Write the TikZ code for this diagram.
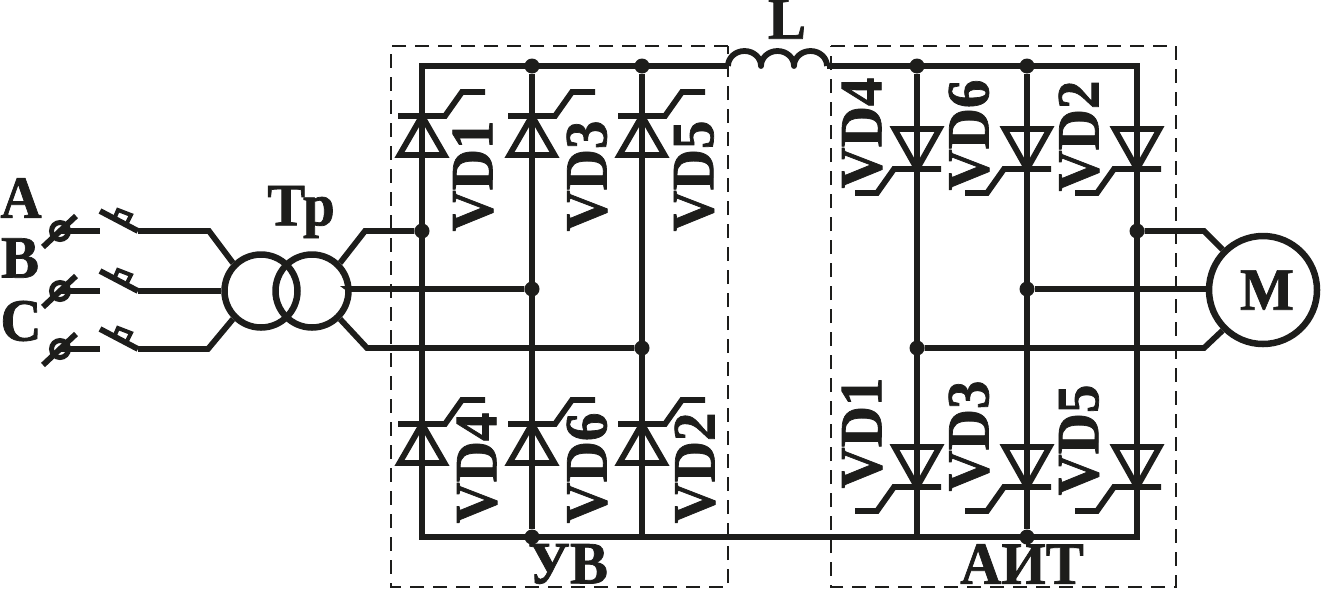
\documentclass[tikz,border=0pt]{standalone}
\usepackage{fontspec}
\setmainfont[BoldFeatures={FakeBold=1.2,FakeStretch=0.95}]{Liberation Serif}
\usetikzlibrary{positioning}
\definecolor{ink}{HTML}{1D1D1B}
\tikzset{
  x=1pt,
  y=-1pt,
  wire/.style={draw=ink, line width=5.8pt},
  frame/.style={draw=ink, line width=2.2pt, dash pattern=on 14pt off 9pt},
  junction/.style={circle, fill=ink, inner sep=0pt, minimum size=15pt},
  winding/.style={circle, draw=ink, line width=6.5pt, inner sep=0pt, minimum size=73pt},
  label/.style={text=ink, inner sep=0pt, font=\bfseries\fontsize{60}{60}\selectfont},
  vlabel/.style={label, rotate=90},
  thyrup/.pic={
    \draw[wire] (-22.5,39) -- (22.5,39) -- (0,0) -- cycle;
    \draw[wire] (-24,0) -- (23,0) -- (40,-24) -- (63,-24);
  },
  thyrdown/.pic={
    \draw[wire] (-22.5,-40) -- (22.5,-40) -- (0,0) -- cycle;
    \draw[wire] (24,0) -- (-23,0) -- (-40,24) -- (-62,24);
  },
  phase/.pic={
    \node[circle, draw=ink, line width=5pt, inner sep=0pt, minimum size=17pt] (-t) at (0,0) {};
    \draw[wire] (-17,16) -- (16,-15);
    \draw[wire] (-t.center) -- (40,0);
    \draw[wire] (40,-20) -- (78,0);
    \draw[ink, line width=4pt] (55,-14) -- (58,-21) -- (71,-16) -- (67,-8);
  },
}
\begin{document}
\begin{tikzpicture}
      \useasboundingbox (0,0) rectangle (1321,590);

      % frames
      \draw[frame] (728,46) -- (391,46) -- (391,587) -- (728,587) -- cycle;
      \draw[frame] (831,46) -- (1176,46) -- (1176,587) -- (831,587) -- cycle;

      % mains side
      \pic (pa) at (60,231) {phase};
      \pic (pb) at (60,291) {phase};
      \pic (pc) at (60,349) {phase};
      \node[winding] (tp1) at (261,291) {};
      \node[winding] (tp2) at (312,291) {};
      \node[circle, draw=ink, line width=6.5pt, inner sep=0pt, minimum size=108pt] (mot) at (1263,290) {};

      % junctions
      \node[junction] (a1) at (532,66) {};
      \node[junction] (a2) at (642,66) {};
      \node[junction] (a3) at (422,231) {};
      \node[junction] (a4) at (532,289) {};
      \node[junction] (a5) at (642,348) {};
      \node[junction] (a6) at (532,537) {};
      \node[junction] (b1) at (917,66) {};
      \node[junction] (b2) at (1027,66) {};
      \node[junction] (b3) at (1137,231) {};
      \node[junction] (b4) at (1027,289) {};
      \node[junction] (b5) at (917,348) {};
      \node[junction] (b6) at (1027,537) {};

      % corners of the buses
      \coordinate (tl) at (422,66);
      \coordinate (bl) at (422,537);
      \coordinate (tr) at (1137,66);
      \coordinate (br) at (1137,537);
      \coordinate (ll) at (728,66);
      \coordinate (lr) at (827,66);
      \coordinate (b7) at (917,537);
      \coordinate (a7) at (642,537);

      \draw[wire] (ll) -- (tl) -- (bl) -- (br) -- (tr) -- (lr);
      \draw[wire] (a1) -- (a6);
      \draw[wire] (a2) -- (a7);
      \draw[wire] (b1) -- (b7);
      \draw[wire] (b2) -- (b6);

      % reactor
      \draw[wire, line join=round] (ll) arc[start angle=180, end angle=360, x radius=16.5, y radius=15]
                  arc[start angle=180, end angle=360, x radius=16.5, y radius=15]
                  arc[start angle=180, end angle=360, x radius=16.5, y radius=15];

      % phases to the transformer, and on
      \draw[wire] (138,231) -- (209,231) -- (tp1.135);
      \draw[wire] (138,291) -- (tp1.west);
      \draw[wire] (138,349) -- (208,349) -- (tp1.225);
      \draw[wire] (tp2.45) -- (365,231) -- (a3);
      \draw[wire] (tp2.east) -- (349,289) -- (a4);
      \draw[wire] (tp2.315) -- (367,348) -- (a5);

      % load side
      \draw[wire] (b3) -- (1204,231) -- (mot.135);
      \draw[wire] (b4) -- (mot.west |- b4);
      \draw[wire] (b5) -- (1204,348) -- (mot.225);

      % rectifier
      \foreach \xx in {422,532,642}{
        \pic at (\xx,116) {thyrup};
        \pic at (\xx,424) {thyrup};
      }
      \node[vlabel] (r1) at (473,176) {VD1};
      \node[vlabel] (r3) at (587,176) {VD3};
      \node[vlabel] (r5) at (694,176) {VD5};
      \node[vlabel] (r4) at (477,468) {VD4};
      \node[vlabel] (r6) at (587,468) {VD6};
      \node[vlabel] (r2) at (695,468) {VD2};

      % inverter
      \foreach \xx in {917,1027,1137}{
        \pic at (\xx,169) {thyrdown};
        \pic at (\xx,487) {thyrdown};
      }
      \node[vlabel] (i4) at (862,133) {VD4};
      \node[vlabel] (i6) at (969,135) {VD6};
      \node[vlabel] (i2) at (1079,136) {VD2};
      \node[vlabel] (i1) at (862,433) {VD1};
      \node[vlabel] (i3) at (969,436) {VD3};
      \node[vlabel] (i5) at (1079,440) {VD5};

      % captions
      \node[label] (cm) at (mot.center) [xshift=4pt] {M};
      \node[label] (cl) at (787,19) {L};
      \node[label] (ctp) at (301,212) {Тр};
      \node[label] (ca) at (21,198) {A};
      \node[label] (cb) at (20,258) {B};
      \node[label] (cc) at (21,321) {C};
      \node[label] (cuv) at (568,564) {УВ};
      \node[label] (cait) at (1022,564) {АИТ};
    \end{tikzpicture}
\end{document}
